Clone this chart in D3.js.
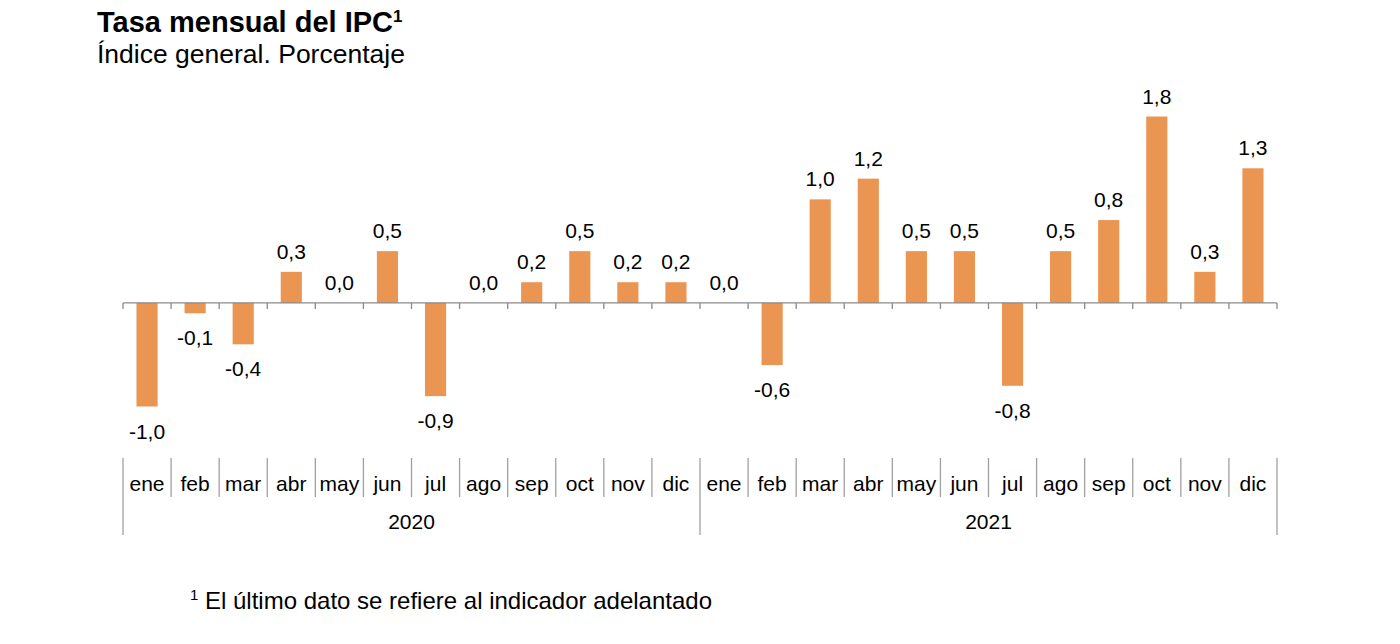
<!DOCTYPE html>
<html><head><meta charset="utf-8">
<script src="https://cdn.jsdelivr.net/npm/d3@7"></script>
<style>body{margin:0;background:#fff}svg{display:block}text{font-family:"Liberation Sans",Arial,sans-serif;fill:#000}</style>
</head><body><svg id="c" width="1400" height="644"></svg>
<script>
const months = ["ene","feb","mar","abr","may","jun","jul","ago","sep","oct","nov","dic"];
const years = ["2020","2021"];
const values = [-1.0,-0.1,-0.4,0.3,0.0,0.5,-0.9,0.0,0.2,0.5,0.2,0.2,
                0.0,-0.6,1.0,1.2,0.5,0.5,-0.8,0.5,0.8,1.8,0.3,1.3];
const labels = ["-1,0","-0,1","-0,4","0,3","0,0","0,5","-0,9","0,0","0,2","0,5","0,2","0,2",
                "0,0","-0,6","1,0","1,2","0,5","0,5","-0,8","0,5","0,8","1,8","0,3","1,3"];

const data = [];
years.forEach(y => months.forEach(m => data.push({key: y + "-" + m, year: y, month: m})));
data.forEach((d, i) => { d.value = values[i]; d.label = labels[i]; });

const svg = d3.select("#c");
const x = d3.scaleBand().domain(data.map(d => d.key)).range([123, 1277]).paddingInner(0.56).paddingOuter(0.28);
const y = d3.scaleLinear().domain([-1.0, 1.8]).range([406.5, 116.5]);
const step = x.step();
const x0 = 123;
const zeroY = y(0);

svg.append("g").selectAll("rect").data(data).join("rect")
  .attr("x", d => x(d.key)).attr("width", x.bandwidth())
  .attr("y", d => y(Math.max(0, d.value)))
  .attr("height", d => Math.abs(y(d.value) - y(0)))
  .attr("fill", "#EB9552");

// axis line + ticks
const axisG = svg.append("g").attr("stroke", "#8a8a8a").attr("stroke-width", 1.3);
axisG.append("line").attr("x1", x0).attr("x2", 1277).attr("y1", zeroY).attr("y2", zeroY);
d3.range(25).forEach(i => {
  const xx = x0 + i * step;
  axisG.append("line").attr("x1", xx).attr("x2", xx).attr("y1", zeroY).attr("y2", zeroY + 6);
});

// value labels
svg.append("g").selectAll("text").data(data).join("text")
  .attr("x", d => x(d.key) + x.bandwidth() / 2)
  .attr("y", d => d.value < 0 ? y(d.value) + 32 : y(d.value) - 13)
  .attr("text-anchor", "middle").attr("font-size", 21).text(d => d.label);

// category axis below
const cat = svg.append("g");
const sepG = svg.append("g").attr("stroke", "#a0a0a0").attr("stroke-width", 1.3);
d3.range(25).forEach(i => {
  const xx = x0 + i * step;
  const isYear = i % 12 === 0;
  sepG.append("line").attr("x1", xx).attr("x2", xx).attr("y1", 458).attr("y2", isYear ? 535 : 497);
});
cat.selectAll("text.m").data(data).join("text").attr("class", "m")
  .attr("x", d => x(d.key) + x.bandwidth() / 2).attr("y", 491)
  .attr("text-anchor", "middle").attr("font-size", 21).text(d => d.month);
cat.selectAll("text.y").data(years).join("text").attr("class", "y")
  .attr("x", (d, i) => x0 + (i * 12 + 6) * step).attr("y", 529)
  .attr("text-anchor", "middle").attr("font-size", 21).text(d => d);

// titles
const t = svg.append("text").attr("x", 97).attr("y", 32).attr("font-size", 29).attr("font-weight", "bold");
t.append("tspan").text("Tasa mensual del IPC");
t.append("tspan").attr("font-size", 17).attr("dy", -10).text("1");
svg.append("text").attr("x", 97).attr("y", 63).attr("font-size", 26.5).text("Índice general. Porcentaje");

const f = svg.append("text").attr("x", 190).attr("y", 609).attr("font-size", 24);
f.append("tspan").attr("font-size", 15).attr("dy", -9).text("1");
f.append("tspan").attr("dy", 9).text(" El último dato se refiere al indicador adelantado");
</script></body></html>
